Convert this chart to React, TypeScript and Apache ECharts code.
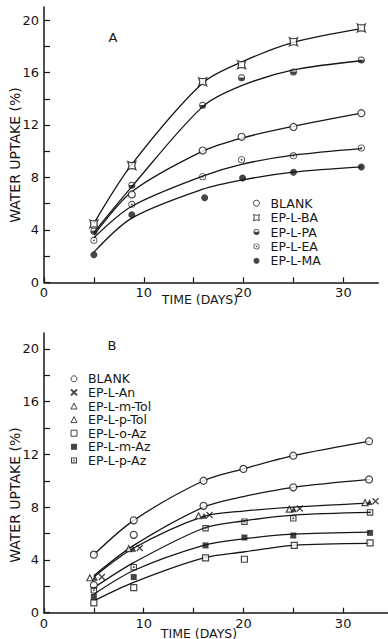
import React, { useEffect, useRef } from "react";
import * as echarts from "echarts";

const INK = "#161616";
const FONT = "DejaVu Sans";

// ---------- Panel A: measured points [days, uptake %] ----------
const A_BLANK = [[8.8, 6.7], [15.9, 10.05], [19.8, 11.1], [25, 11.85], [31.8, 12.9]];
const A_BA = [[5, 4.45], [8.8, 8.9], [15.9, 15.3], [19.8, 16.6], [25, 18.35], [31.8, 19.4]];
const A_PA = [[5, 3.9], [8.8, 7.4], [15.9, 13.5], [19.8, 15.6], [25, 16.05], [31.8, 16.95]];
const A_EA = [[5, 3.2], [8.8, 5.95], [15.9, 8.05], [19.8, 9.35], [25, 9.65], [31.8, 10.25]];
const A_MA = [[5, 2.1], [8.8, 5.15], [16.1, 6.45], [19.9, 7.95], [25, 8.4], [31.8, 8.8]];

// Panel A: hand-drawn fitted curves
const A_BLANK_FIT = [[5, 3.6], [8.8, 6.9], [15.9, 10.0], [19.8, 11.0], [25, 11.9], [31.8, 12.9]];
const A_BA_FIT = [[5, 4.5], [8.8, 9.0], [15.9, 15.2], [19.8, 16.8], [25, 18.3], [31.8, 19.35]];
const A_PA_FIT = [[5, 3.8], [8.8, 7.3], [15.9, 13.4], [19.8, 15.0], [25, 16.2], [31.8, 16.9]];
const A_EA_FIT = [[5, 3.4], [8.8, 5.8], [15.9, 8.1], [19.8, 9.0], [25, 9.7], [31.8, 10.2]];
const A_MA_FIT = [[5, 2.3], [8.8, 4.9], [15.9, 7.1], [19.8, 7.8], [25, 8.4], [31.8, 8.8]];

// ---------- Panel B: measured points ----------
const B_BLANK = [[5, 4.4], [9, 7.0], [16, 10.0], [20, 10.9], [25, 11.9], [32.6, 13.0]];
const B_BLANK2 = [[5, 2.1], [9, 5.9], [16, 8.1], [25, 9.5], [32.6, 10.1]];
const B_AN = [[5.8, 2.7], [9.6, 4.9], [16.6, 7.4], [25.65, 7.9], [33.25, 8.45]];
const B_MTOL = [[4.6, 2.65], [8.5, 4.85], [15.5, 7.35], [24.6, 7.85], [32.2, 8.35]];
const B_PTOL = [[5.1, 2.65], [8.95, 4.85], [16.05, 7.35], [25.05, 7.85], [32.65, 8.4]];
const B_OAZ = [[5, 0.75], [9, 1.9], [16.2, 4.15], [20.1, 4.05], [25.1, 5.1], [32.7, 5.3]];
const B_MAZ = [[5, 1.2], [9, 2.7], [16.2, 5.1], [20.1, 5.7], [25, 5.85], [32.7, 6.05]];
const B_PAZ = [[5, 1.7], [9, 3.45], [16.2, 6.4], [20.1, 6.9], [25, 7.15], [32.7, 7.6]];

// Panel B: fitted curves
const B_BLANK_FIT = [[5, 4.4], [9, 7.0], [16, 10.0], [20, 10.9], [25, 11.9], [32.7, 13.0]];
const B_BLANK2_FIT = [[5, 2.8], [9, 5.1], [16, 8.0], [20, 8.8], [25, 9.5], [32.7, 10.1]];
const B_TOL_FIT = [[5, 2.7], [9, 4.9], [16, 7.3], [20, 7.7], [25, 8.0], [32.7, 8.3]];
const B_PAZ_FIT = [[5, 1.9], [9, 3.8], [16, 6.4], [20, 6.95], [25, 7.4], [32.7, 7.6]];
const B_MAZ_FIT = [[5, 1.4], [9, 3.2], [16, 5.1], [20, 5.6], [25, 5.95], [32.7, 6.1]];
const B_OAZ_FIT = [[5, 0.9], [9, 2.3], [16, 4.15], [20, 4.6], [25, 5.1], [32.7, 5.25]];

// Ticks / labels
const X_TICKS = [0, 5, 10, 15, 20, 25, 30];
const X_LABELS = [0, 10, 20, 30];
const Y_TICKS = [0, 2, 4, 6, 8, 10, 12, 14, 16, 18, 20];
const Y_LABELS = [0, 4, 8, 12, 16, 20];

const LEGEND_A = ["BLANK", "EP-L-BA", "EP-L-PA", "EP-L-EA", "EP-L-MA"];
const LEGEND_B = ["BLANK", "EP-L-An", "EP-L-m-Tol", "EP-L-p-Tol", "EP-L-o-Az", "EP-L-m-Az", "EP-L-p-Az"];

// Marker shapes
const SYM_RING_DOT =
  "path://M0 10 A10 10 0 1 1 20 10 A10 10 0 1 1 0 10 Z M2.4 10 A7.6 7.6 0 1 0 17.6 10 A7.6 7.6 0 1 0 2.4 10 Z M7.4 10 A2.6 2.6 0 1 1 12.6 10 A2.6 2.6 0 1 1 7.4 10 Z";
const SYM_HALF =
  "path://M0 10 A10 10 0 1 1 20 10 A10 10 0 1 1 0 10 Z M2.4 10 A7.6 7.6 0 1 0 17.6 10 A7.6 7.6 0 1 0 2.4 10 Z M2.47 9 L17.53 9 A7.6 7.6 0 1 1 2.47 9 Z";
const SYM_BA = "path://M0 0 Q10 5 20 0 Q15 10 20 20 Q10 15 0 20 Q5 10 0 0 Z";
const SYM_X = "path://M0 0 L20 20 M20 0 L0 20";
const SYM_SQ_DOT =
  "path://M0 0 L20 0 L20 20 L0 20 Z M3.5 3.5 L3.5 16.5 L16.5 16.5 L16.5 3.5 Z M7.5 7.5 L12.5 7.5 L12.5 12.5 L7.5 12.5 Z";

const OPEN = { color: "#ffffff", borderColor: INK, borderWidth: 1.2 };
const FILLED = { color: INK, borderColor: INK, borderWidth: 0 };
const LEG_OPEN = { itemStyle: { color: "#ffffff", borderColor: INK, borderWidth: 1 } };

function pts(name: string, data: number[][], g: number, symbol: string, style: any, size: number) {
  return {
    type: "scatter",
    name,
    data,
    xAxisIndex: g,
    yAxisIndex: g,
    symbol,
    symbolSize: size,
    itemStyle: style,
    z: 4,
    silent: true,
  };
}

function fit(name: string, data: number[][], g: number) {
  return {
    type: "line",
    name: name + " (fit)",
    data,
    xAxisIndex: g,
    yAxisIndex: g,
    smooth: 0.3,
    showSymbol: false,
    symbol: "none",
    lineStyle: { color: INK, width: 1.3 },
    z: 2,
    silent: true,
  };
}

function xAxis(g: number, max: number, margin: number) {
  return {
    type: "value",
    gridIndex: g,
    min: 0,
    max,
    splitLine: { show: false },
    axisLine: { show: true, onZero: false, lineStyle: { color: INK, width: 1.5 } },
    axisTick: { show: true, inside: true, length: 5, customValues: X_TICKS, lineStyle: { color: INK, width: 1.2 } },
    axisLabel: { customValues: X_LABELS, margin, color: INK, fontFamily: FONT, fontSize: 13 },
  };
}

function yAxis(g: number, max: number) {
  return {
    type: "value",
    gridIndex: g,
    min: 0,
    max,
    splitLine: { show: false },
    axisLine: { show: true, onZero: false, lineStyle: { color: INK, width: 1.5 } },
    axisTick: { show: true, inside: true, length: 6, customValues: Y_TICKS, lineStyle: { color: INK, width: 1.2 } },
    axisLabel: { customValues: Y_LABELS, margin: 5, color: INK, fontFamily: FONT, fontSize: 13 },
  };
}

function legend(names: string[], left: number, top: number, lh: number, extra: Record<string, any> = {}) {
  return {
    data: names.map((n) => (extra[n] ? { name: n, ...extra[n] } : n)),
    orient: "vertical",
    left,
    top,
    padding: 0,
    itemWidth: 6,
    itemHeight: 6,
    itemGap: 0,
    selectedMode: false,
    textStyle: { fontFamily: FONT, fontSize: 12.5, color: INK, lineHeight: lh, padding: [0, 0, 0, 6] },
  };
}

export default function App() {
  const ref = useRef<HTMLDivElement>(null);
  useEffect(() => {
    if (!ref.current) return;
    const chart = echarts.init(ref.current, null, { renderer: "svg" });
    const option = {
      animation: false,
      backgroundColor: "#ffffff",
      grid: [
        { left: 44, top: 7, width: 334.3, height: 275.3 },
        { left: 44, top: 333, width: 344, height: 279.7 },
      ],
      xAxis: [xAxis(0, 33.5, 4), xAxis(1, 34.5, 4)],
      yAxis: [yAxis(0, 21), yAxis(1, 21.2)],
      legend: [
        legend(LEGEND_A, 253, 196, 14.4, { BLANK: LEG_OPEN, "EP-L-BA": LEG_OPEN }),
        legend(LEGEND_B, 70, 372, 13.6, {
          BLANK: LEG_OPEN,
          "EP-L-m-Tol": LEG_OPEN,
          "EP-L-p-Tol": LEG_OPEN,
          "EP-L-o-Az": LEG_OPEN,
        }),
      ],
      series: [
        fit("BLANK", A_BLANK_FIT, 0),
        fit("EP-L-BA", A_BA_FIT, 0),
        fit("EP-L-PA", A_PA_FIT, 0),
        fit("EP-L-EA", A_EA_FIT, 0),
        fit("EP-L-MA", A_MA_FIT, 0),
        pts("BLANK", A_BLANK, 0, "circle", OPEN, 7),
        pts("EP-L-BA", A_BA, 0, SYM_BA, OPEN, 8),
        pts("EP-L-PA", A_PA, 0, SYM_HALF, FILLED, 7),
        pts("EP-L-EA", A_EA, 0, SYM_RING_DOT, FILLED, 7),
        pts("EP-L-MA", A_MA, 0, "circle", FILLED, 7),

        fit("BLANK", B_BLANK_FIT, 1),
        fit("BLANK-2", B_BLANK2_FIT, 1),
        fit("EP-L-Tol", B_TOL_FIT, 1),
        fit("EP-L-p-Az", B_PAZ_FIT, 1),
        fit("EP-L-m-Az", B_MAZ_FIT, 1),
        fit("EP-L-o-Az", B_OAZ_FIT, 1),
        pts("BLANK", B_BLANK, 1, "circle", OPEN, 7),
        pts("BLANK", B_BLANK2, 1, "circle", OPEN, 7),
        pts("EP-L-An", B_AN, 1, SYM_X, { color: "transparent", borderColor: INK, borderWidth: 1.3 }, 6),
        pts("EP-L-m-Tol", B_MTOL, 1, "triangle", OPEN, 6),
        pts("EP-L-p-Tol", B_PTOL, 1, "triangle", FILLED, 6),
        pts("EP-L-o-Az", B_OAZ, 1, "rect", OPEN, 6),
        pts("EP-L-m-Az", B_MAZ, 1, "rect", FILLED, 6),
        pts("EP-L-p-Az", B_PAZ, 1, SYM_SQ_DOT, FILLED, 6.5),
      ],
      graphic: [
        { type: "text", x: 113, y: 37, style: { text: "A", font: `13px "${FONT}"`, fill: INK, align: "center", verticalAlign: "middle" } },
        { type: "text", x: 112, y: 345, style: { text: "B", font: `13px "${FONT}"`, fill: INK, align: "center", verticalAlign: "middle" } },
        { type: "text", x: 15, y: 155, rotation: Math.PI / 2, style: { text: "WATER UPTAKE (%)", font: `14px "${FONT}"`, fill: INK, align: "center", verticalAlign: "middle" } },
        { type: "text", x: 15, y: 495, rotation: Math.PI / 2, style: { text: "WATER UPTAKE (%)", font: `14px "${FONT}"`, fill: INK, align: "center", verticalAlign: "middle" } },
        { type: "text", x: 200, y: 299, style: { text: "TIME (DAYS)", font: `12.5px "${FONT}"`, fill: INK, align: "center", verticalAlign: "middle" } },
        { type: "text", x: 199, y: 633, style: { text: "TIME (DAYS)", font: `12.5px "${FONT}"`, fill: INK, align: "center", verticalAlign: "middle" } },
      ],
    };
    chart.setOption(option as any);
    return () => chart.dispose();
  }, []);
  return (
    <div
      ref={ref}
      style={{ position: "fixed", left: 0, top: 0, width: 388, height: 639, background: "#ffffff" }}
    />
  );
}
